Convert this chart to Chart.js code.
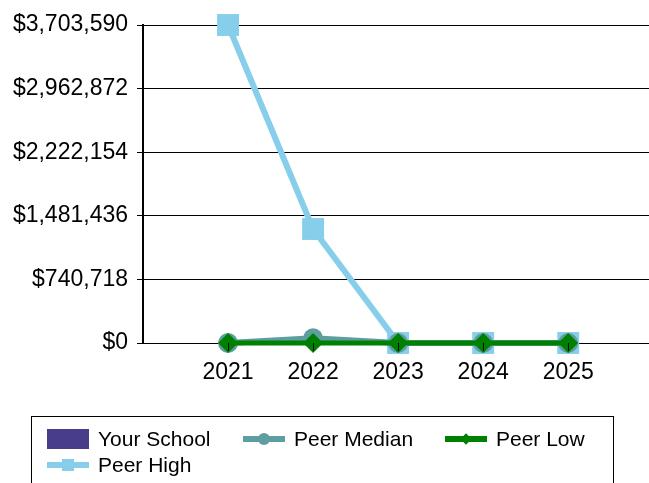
<!DOCTYPE html>
<html>
<head>
<meta charset="utf-8">
<script src="https://cdn.jsdelivr.net/npm/chart.js@4/dist/chart.umd.min.js"></script>
<style>
  body { margin: 0; background: #fff; font-family: "Liberation Sans", Arial, sans-serif; }
  #wrap { position: relative; width: 649px; height: 483px; overflow: hidden; }
  #legend {
    position: absolute; left: 31px; top: 416px; width: 583px; height: 90px;
    border: 1.5px solid #000; box-sizing: border-box;
  }
  .item { position: absolute; font-size: 21px; line-height: 24px; color: #000; white-space: nowrap; }
  .item .ico { position: absolute; left: -51px; top: 2px; width: 42px; height: 20px; }
  .item .ico .ln { position: absolute; left: 0; right: 0; top: 7px; height: 6px; }
  .item .ico .mk { position: absolute; }
</style>
</head>
<body>
<div id="wrap">
  <canvas id="chart" width="649" height="483"></canvas>
  <div id="legend"></div>
</div>
<script>
const years = [2021, 2022, 2023, 2024, 2025];
const yourSchool = [null, null, null, null, null];
const peerMedian = [0, 55000, 0, 0, 0];
const peerLow = [0, 0, 0, 0, 0];
const peerHigh = [3703590, 1327700, 0, 0, 0];
const yTicks = [0, 740718, 1481436, 2222154, 2962872, 3703590];

const FONT = "'Liberation Sans', Arial, sans-serif";

function points(values) {
  return years.map((year, i) => ({ x: year, y: values[i] }));
}

const ctx = document.getElementById("chart").getContext("2d");

new Chart(ctx, {
  type: "line",
  data: {
    datasets: [
      {
        label: "Your School",
        data: points(yourSchool),
        borderColor: "#483D8B",
        backgroundColor: "#483D8B",
        pointRadius: 0,
        order: 4,
      },
      {
        label: "Peer Median",
        data: points(peerMedian),
        borderColor: "#5F9EA0",
        backgroundColor: "#5F9EA0",
        borderWidth: 6,
        pointStyle: "circle",
        pointRadius: 10,
        pointBorderWidth: 0,
        clip: false,
        order: 2,
      },
      {
        label: "Peer Low",
        data: points(peerLow),
        borderColor: "#008000",
        backgroundColor: "#008000",
        borderWidth: 5,
        pointStyle: "rectRot",
        pointRadius: 10,
        pointBorderWidth: 0,
        clip: false,
        order: 1,
      },
      {
        label: "Peer High",
        data: points(peerHigh),
        borderColor: "#87CEEB",
        backgroundColor: "#87CEEB",
        borderWidth: 6,
        pointStyle: "rect",
        pointRadius: 15.5,
        pointBorderWidth: 0,
        clip: false,
        order: 3,
      },
    ],
  },
  options: {
    responsive: false,
    animation: false,
    // autoPadding off, otherwise the big square markers shrink the plot area
    layout: { autoPadding: false, padding: { top: 25, right: 0, bottom: 0, left: 0 } },
    plugins: {
      legend: { display: false },
      tooltip: { enabled: false },
    },
    scales: {
      x: {
        type: "linear",
        min: 2020,
        max: 2025.95,
        offset: false,
        afterBuildTicks: (axis) => {
          axis.ticks = years.map((v) => ({ value: v }));
        },
        afterFit: (axis) => {
          axis.height = 140;
        },
        ticks: {
          callback: (v) => String(v),
          color: "#000",
          font: { family: FONT, size: 23 },
          padding: 8,
          maxRotation: 0,
        },
        grid: {
          z: 1,
          offset: false,
          drawOnChartArea: false,
          drawTicks: true,
          tickLength: 8,
          color: "#000",
          lineWidth: 1,
        },
        border: { display: false },
      },
      y: {
        min: 0,
        max: 3703590,
        afterBuildTicks: (axis) => {
          axis.ticks = yTicks.map((v) => ({ value: v }));
        },
        afterFit: (axis) => {
          axis.width = 143;
        },
        ticks: {
          callback: (v) => "$" + v.toLocaleString("en-US"),
          color: "#000",
          font: { family: FONT, size: 23 },
          padding: 9,
        },
        grid: {
          color: "#000",
          lineWidth: 1,
          tickLength: 6,
        },
        border: { display: true, color: "#000", width: 2 },
      },
    },
  },
});

// legend drawn as html, laid out like the reference
const legendItems = [
  { label: "Your School", kind: "box", color: "#483D8B", left: 66, top: 10 },
  { label: "Peer Median", kind: "circle", color: "#5F9EA0", left: 262, top: 10 },
  { label: "Peer Low", kind: "diamond", color: "#008000", left: 464, top: 10 },
  { label: "Peer High", kind: "square", color: "#87CEEB", left: 66, top: 36 },
];

const legend = document.getElementById("legend");
legendItems.forEach((item) => {
  const el = document.createElement("div");
  el.className = "item";
  el.style.left = item.left + "px";
  el.style.top = item.top + "px";
  el.textContent = item.label;

  const ico = document.createElement("div");
  ico.className = "ico";
  if (item.kind === "box") {
    ico.style.background = item.color;
  } else {
    const ln = document.createElement("div");
    ln.className = "ln";
    ln.style.background = item.color;
    ico.appendChild(ln);
    const mk = document.createElement("div");
    mk.className = "mk";
    mk.style.background = item.color;
    if (item.kind === "circle") {
      Object.assign(mk.style, { left: "15px", top: "4px", width: "12px", height: "12px", borderRadius: "50%" });
    } else if (item.kind === "diamond") {
      Object.assign(mk.style, { left: "17px", top: "6px", width: "8px", height: "8px", transform: "rotate(45deg)" });
    } else {
      Object.assign(mk.style, { left: "15px", top: "4px", width: "12px", height: "12px" });
    }
    ico.appendChild(mk);
  }
  el.appendChild(ico);
  legend.appendChild(el);
});
</script>
</body>
</html>
